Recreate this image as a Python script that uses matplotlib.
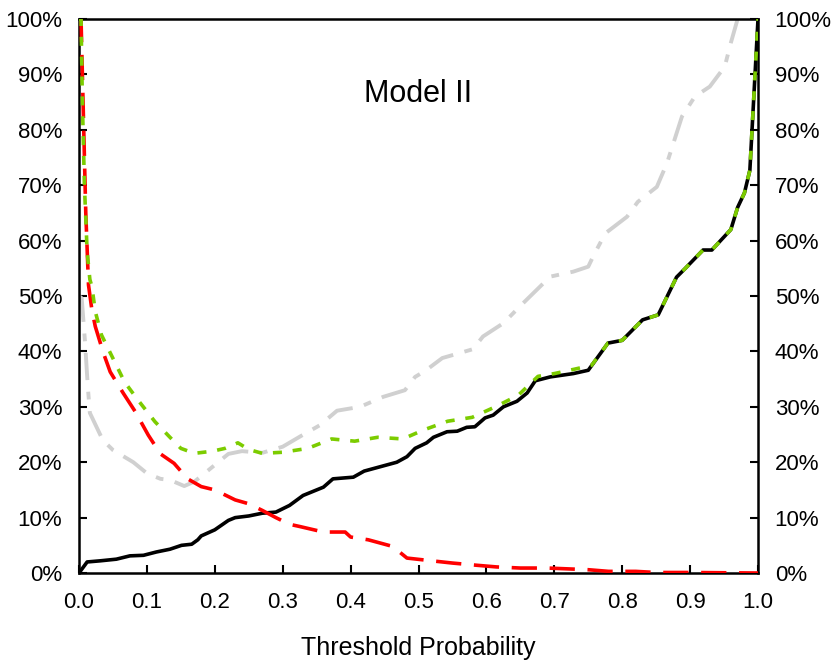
import matplotlib.pyplot as plt
from matplotlib.ticker import FuncFormatter

plt.rcParams['font.family'] = ['Liberation Sans', 'DejaVu Sans']

# model curve (black)
model_x = [0.0, 0.012, 0.031, 0.055, 0.075, 0.095, 0.114, 0.134, 0.151, 0.166, 0.175,
           0.18, 0.20, 0.22, 0.23, 0.25, 0.27, 0.29, 0.31, 0.33, 0.36, 0.374, 0.404,
           0.42, 0.468, 0.483, 0.495, 0.512, 0.522, 0.542, 0.557, 0.571, 0.583, 0.598,
           0.61, 0.625, 0.645, 0.66, 0.672, 0.694, 0.728, 0.75, 0.779, 0.80, 0.83,
           0.853, 0.88, 0.893, 0.919, 0.932, 0.96, 0.97, 0.98, 0.988, 1.0]
model_y = [0.0, 2.0, 2.2, 2.5, 3.1, 3.2, 3.8, 4.3, 5.0, 5.2, 6.0,
           6.7, 7.8, 9.5, 10.0, 10.3, 10.8, 11.0, 12.2, 14.0, 15.5, 17.0, 17.3,
           18.4, 20.0, 21.0, 22.5, 23.5, 24.5, 25.5, 25.6, 26.3, 26.4, 28.0,
           28.5, 30.0, 31.0, 32.5, 34.7, 35.4, 36.0, 36.6, 41.5, 42.0, 45.7,
           46.6, 53.4, 55.0, 58.3, 58.3, 62.0, 66.0, 68.6, 72.7, 100.0]

# green dotted curve
green_x = [0.0, 0.003, 0.005, 0.008, 0.012, 0.016, 0.019, 0.024, 0.033, 0.049, 0.067,
           0.087, 0.112, 0.134, 0.15, 0.17, 0.197, 0.215, 0.234, 0.25, 0.27, 0.30,
           0.337, 0.372, 0.406, 0.44, 0.477, 0.507, 0.543, 0.579, 0.615, 0.647,
           0.676, 0.70, 0.73, 0.755, 0.779, 0.80, 0.83, 0.853, 0.88, 0.893, 0.919,
           0.932, 0.96, 0.97, 0.98, 0.988, 1.0]
green_y = [100.0, 100.0, 85.0, 70.0, 58.0, 53.0, 51.7, 47.2, 43.0, 39.0, 34.5,
           31.2, 27.3, 24.5, 22.5, 21.6, 22.0, 22.5, 23.5, 22.3, 21.6, 21.8,
           22.5, 24.2, 23.8, 24.5, 24.2, 25.8, 27.4, 28.1, 30.1, 32.1,
           35.5, 36.0, 36.8, 37.5, 41.5, 42.0, 45.7, 46.6, 53.4, 55.0, 58.3,
           58.3, 62.0, 66.0, 68.6, 72.7, 100.0]

# red long-dashed curve
red_x = [0.0, 0.003, 0.006, 0.01, 0.014, 0.019, 0.024, 0.036, 0.046, 0.065, 0.083,
         0.102, 0.12, 0.14, 0.16, 0.18, 0.20, 0.23, 0.25, 0.27, 0.29, 0.31, 0.325,
         0.36, 0.392, 0.40, 0.426, 0.462, 0.483, 0.52, 0.55, 0.586, 0.615, 0.65,
         0.69, 0.75, 0.78, 0.82, 0.85, 0.90, 0.95, 1.0]
red_y = [100.0, 100.0, 85.0, 65.0, 52.0, 47.5, 44.5, 39.7, 36.3, 32.5, 29.1,
         24.9, 21.5, 19.8, 17.0, 15.6, 15.0, 13.2, 12.5, 11.3, 10.0, 8.8, 8.4,
         7.4, 7.4, 6.5, 6.0, 4.8, 2.7, 2.2, 1.8, 1.4, 1.1, 0.9,
         0.9, 0.6, 0.3, 0.3, 0.1, 0.1, 0.05, 0.0]

# gray dash-dot curve
gray_x = [0.0, 0.004, 0.009, 0.013, 0.016, 0.035, 0.05, 0.08, 0.10, 0.12, 0.134,
          0.155, 0.17, 0.18, 0.20, 0.22, 0.24, 0.27, 0.30, 0.325, 0.355, 0.38,
          0.414, 0.448, 0.48, 0.495, 0.51, 0.535, 0.566, 0.58, 0.595, 0.625,
          0.654, 0.694, 0.728, 0.75, 0.757, 0.775, 0.807, 0.823, 0.851, 0.866,
          0.888, 0.907, 0.929, 0.951, 0.96, 0.97]
gray_y = [50.0, 49.6, 41.5, 33.6, 28.9, 24.0, 22.2, 20.0, 18.0, 17.0, 16.8,
          15.7, 16.5, 17.5, 19.5, 21.5, 22.0, 21.7, 22.8, 24.6, 26.7, 29.3,
          30.0, 31.8, 33.0, 35.4, 36.5, 38.8, 39.9, 40.4, 42.7, 45.1,
          48.7, 53.5, 54.4, 55.3, 57.1, 61.3, 64.3, 67.0, 69.7, 74.0,
          82.4, 86.0, 87.8, 91.4, 95.7, 100.0]

fig = plt.figure(figsize=(8.35, 6.64), dpi=100)
ax = fig.add_axes([0.0946, 0.137, 0.8132, 0.8344])

ax.plot(gray_x, gray_y, color='#d0d0d0', lw=2.8, dashes=(7, 3, 2, 3), zorder=2)
ax.plot(model_x, model_y, color='black', lw=2.6, zorder=3)
ax.plot(red_x, red_y, color='#ff0000', lw=2.6, dashes=(7, 3.5), zorder=4)
ax.plot(green_x, green_y, color='#7ccc00', lw=2.6, dashes=(2.5, 3), zorder=5)

ax.set_xlim(0, 1)
ax.set_ylim(0, 100)
ax.set_xticks([i / 10 for i in range(11)])
ax.set_yticks(range(0, 101, 10))
ax.xaxis.set_major_formatter(FuncFormatter(lambda v, p: f"{v:.1f}"))
ax.yaxis.set_major_formatter(FuncFormatter(lambda v, p: f"{int(v)}%"))
ax.tick_params(direction='in', length=6, width=1.5, labelsize=16,
               right=True, labelright=True, top=False)
ax.tick_params(axis='x', pad=14)
ax.tick_params(axis='y', pad=12)
for s in ax.spines.values():
    s.set_linewidth(1.8)

ax.text(0.5, 0.865, "Model II", transform=ax.transAxes, ha='center', va='center',
        fontsize=22)
ax.set_xlabel("Threshold Probability", fontsize=18, labelpad=16)

fig.savefig("out.png", dpi=100)
